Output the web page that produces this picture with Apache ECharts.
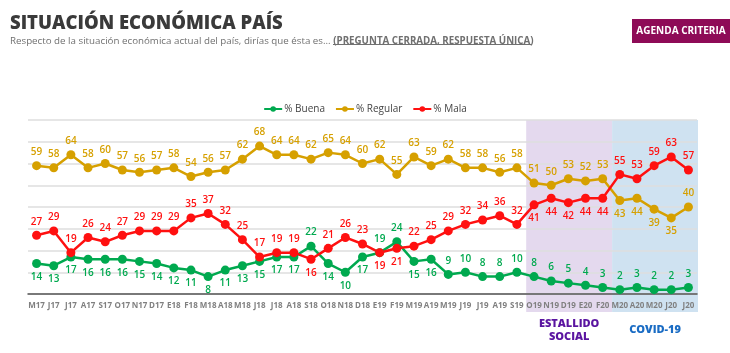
<!DOCTYPE html>
<html><head><meta charset="utf-8">
<script src="https://cdn.jsdelivr.net/npm/echarts@6/dist/echarts.min.js"></script>
<style>html,body{margin:0;padding:0;background:#fff}#c{width:730px;height:353px}</style>
</head><body><div id="c"></div>
<script>
const categories = ['M17','J17','J17','A17','S17','O17','N17','D17','E18','F18','M18','A18','M18','J18','J18','A18','S18','O18','N18','D18','E19','F19','M19','A19','M19','J19','J19','A19','S19','O19','N19','D19','E20','F20','M20','A20','M20','J20','J20'];
const buena = [14,13,17,16,16,16,15,14,12,11,8,11,13,15,17,17,22,14,10,17,19,24,15,16,9,10,8,8,10,8,6,5,4,3,2,3,2,2,3];
const regular = [59,58,64,58,60,57,56,57,58,54,56,57,62,68,64,64,62,65,64,60,62,55,63,59,62,58,58,56,58,51,50,53,52,53,43,44,39,35,40];
const mala = [27,29,19,26,24,27,29,29,29,35,37,32,25,17,19,19,16,21,26,23,19,21,22,25,29,32,34,36,32,41,44,42,44,44,55,53,59,63,57];
const seriesNames = ['% Buena','% Regular','% Mala'];
const periods = [
  {name:'ESTALLIDO\nSOCIAL', from:29, to:34},
  {name:'COVID-19', from:34, to:39}
];
// label placement exceptions (indices)
const buenaAbove = [16,20,21,24,25,26,27,28,29,30,31,32,33,34,35,36,37,38];
const malaBelow = [16,20,21,29,30,31,32,33];
const regularBelow = [34,35,36,37];

const FONT = 'Open Sans';
const cGreen = '#00a94f', cGold = '#d6a000', cRed = '#ff1010';

function mk(vals, defPos, exc, altPos){
  return vals.map((v,i)=>({value:v, label:{position: exc.includes(i)?altPos:defPos}}));
}
function lineSeries(name, vals, color, defPos, exc, altPos){
  return {
    name, type:'line', data: mk(vals, defPos, exc, altPos),
    xAxisIndex:0, yAxisIndex:0,
    symbol:'circle', symbolSize:9,
    lineStyle:{color, width:2.5}, itemStyle:{color},
    label:{show:true, color, fontSize:10, fontFamily:FONT, fontWeight:600, distance:4},
    z:5
  };
}

const chart = echarts.init(document.getElementById('c'));
chart.setOption({
  animation:false,
  title:{
    text:'SITUACIÓN ECONÓMICA PAÍS',
    left:5, top:9,
    textStyle:{fontFamily:FONT, fontSize:18.5, fontWeight:800, color:'#3a3a3a'},
    subtext:'{a|Respecto de la situación económica actual del país, dirías que ésta es... }{b|(PREGUNTA CERRADA, RESPUESTA ÚNICA)}',
    itemGap:3,
    subtextStyle:{rich:{
      a:{fontFamily:FONT, fontSize:9.75, color:'#707070'},
      b:{fontFamily:FONT, fontSize:9.75, fontWeight:700, color:'#707070'}
    }}
  },
  graphic:[
    {type:'rect', shape:{x:632,y:19,width:98,height:24}, style:{fill:'#8e0b57'}},
    {type:'text', x:681, y:31, style:{text:'AGENDA CRITERIA', fill:'#fff', font:'700 10px "Open Sans"', textAlign:'center', textVerticalAlign:'middle'}},
    {type:'line', shape:{x1:333,y1:44.5,x2:532,y2:44.5}, style:{stroke:'#707070', lineWidth:1}}
  ],
  legend:{
    top:99, left:'center',
    data:seriesNames,
    itemWidth:18, itemHeight:7, itemGap:10,
    textStyle:{fontFamily:FONT, fontSize:10, color:'#444', padding:[0,0,0,-3]}
  },
  grid:[
    {left:28, right:33, top:120, bottom:59},
    {left:28, right:32, top:120, bottom:41}
  ],
  xAxis:[
    {type:'category', data:categories, gridIndex:0, boundaryGap:true,
     axisLine:{lineStyle:{color:'#555', width:1.5}}, axisTick:{show:false},
     axisLabel:{interval:0, fontFamily:FONT, fontSize:8, fontWeight:700, color:'#808080', margin:8}},
    {type:'value', gridIndex:1, min:0, max:categories.length, show:false}
  ],
  yAxis:[
    {type:'value', gridIndex:0, min:0, max:80, interval:10,
     axisLabel:{show:false}, axisLine:{show:false}, axisTick:{show:false},
     splitLine:{lineStyle:{color:'#dedede', width:1.5}}},
    {type:'value', gridIndex:1, min:0, max:1, show:false}
  ],
  series:[
    {
      type:'line', xAxisIndex:1, yAxisIndex:1, data:[], silent:true, z:0,
      markArea:{
        silent:true, z:-1,
        data: periods.map((p,i)=>[
          {xAxis:p.from, yAxis:1, itemStyle:{color: i===0?'#e4d9ee':'#cfe2f1'},
           label:{show:true, position:'bottom', distance: i===0?5:11, formatter:p.name,
                  color: i===0?'#5a14a0':'#1a6cc4', fontFamily:FONT, fontSize:11, fontWeight:800, lineHeight:13}},
          {xAxis:p.to, yAxis:0}
        ])
      }
    },
    lineSeries(seriesNames[0], buena, cGreen, 'bottom', buenaAbove, 'top'),
    lineSeries(seriesNames[1], regular, cGold, 'top', regularBelow, 'bottom'),
    lineSeries(seriesNames[2], mala, cRed, 'top', malaBelow, 'bottom')
  ]
});
</script></body></html>
